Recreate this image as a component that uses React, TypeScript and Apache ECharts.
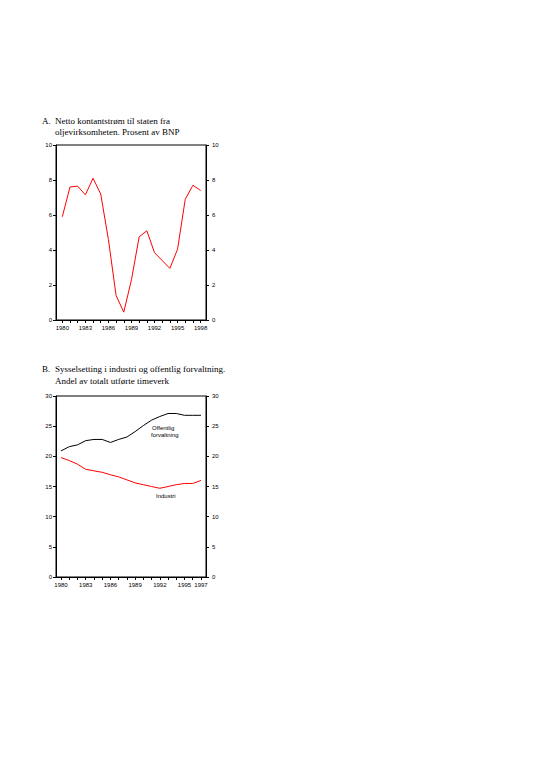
import React, { useEffect, useRef } from 'react';
import * as echarts from 'echarts';

// Panel A: netto kontantstrøm fra oljevirksomheten, prosent av BNP
const yearsA = [1980, 1981, 1982, 1983, 1984, 1985, 1986, 1987, 1988, 1989, 1990, 1991, 1992, 1993, 1994, 1995, 1996, 1997, 1998];
const cashFlow = [5.9, 7.6, 7.65, 7.15, 8.1, 7.2, 4.6, 1.4, 0.45, 2.3, 4.75, 5.1, 3.85, 3.4, 2.95, 4.05, 6.9, 7.7, 7.4];
const labelYearsA = [1980, 1983, 1986, 1989, 1992, 1995, 1998];

// Panel B: andel av totalt utførte timeverk
const yearsB = [1980, 1981, 1982, 1983, 1984, 1985, 1986, 1987, 1988, 1989, 1990, 1991, 1992, 1993, 1994, 1995, 1996, 1997];
const offentlig = [20.9, 21.6, 21.9, 22.6, 22.8, 22.8, 22.3, 22.8, 23.2, 24.1, 25.1, 26.0, 26.6, 27.1, 27.1, 26.8, 26.8, 26.8];
const industri = [19.8, 19.3, 18.7, 17.85, 17.6, 17.35, 16.95, 16.6, 16.1, 15.6, 15.3, 15.0, 14.7, 15.0, 15.3, 15.5, 15.5, 16.0];
const labelYearsB = [1980, 1983, 1986, 1989, 1992, 1995, 1997];

const tickFont = { fontFamily: 'Liberation Sans', fontSize: 6, color: '#000' };
const titleFont = { fontFamily: 'Liberation Serif', fontSize: 9, fill: '#000' };
const noteFont = { fontFamily: 'Liberation Sans', fontSize: 6, fill: '#000' };

const App: React.FC = () => {
  const chartRef = useRef<HTMLDivElement | null>(null);

  useEffect(() => {
    const chart = echarts.init(chartRef.current!, null, { renderer: 'svg' });

    const xAxis = (gridIndex: number, min: number, max: number, ticks: number[], labels: number[]) => ({
      type: 'value',
      gridIndex,
      min,
      max,
      splitLine: { show: false },
      axisLine: { lineStyle: { color: '#000', width: 1 } },
      axisTick: { length: 3, customValues: ticks, lineStyle: { color: '#000' } },
      axisLabel: { ...tickFont, margin: 5, customValues: labels, formatter: (v: number) => String(v) },
    });

    const yAxis = (gridIndex: number, max: number, step: number, position: string) => ({
      type: 'value',
      gridIndex,
      position,
      min: 0,
      max,
      interval: step,
      splitLine: { show: false },
      axisLine: { show: true, lineStyle: { color: '#000', width: 1 } },
      axisTick: { show: true, length: 3, lineStyle: { color: '#000' } },
      axisLabel: { ...tickFont, margin: position === 'left' ? 4 : 6 },
    });

    const option = {
      animation: false,
      backgroundColor: '#fff',
      grid: [
        { left: 56, width: 150, top: 145, height: 175, show: true, borderColor: '#000', borderWidth: 1 },
        { left: 56, width: 150, top: 396, height: 181, show: true, borderColor: '#000', borderWidth: 1 },
      ],
      xAxis: [
        xAxis(0, 1979.18, 1998.7, yearsA, labelYearsA),
        xAxis(1, 1979.39, 1997.61, yearsB, labelYearsB),
      ],
      yAxis: [
        yAxis(0, 10, 2, 'left'),
        yAxis(0, 10, 2, 'right'),
        yAxis(1, 30, 5, 'left'),
        yAxis(1, 30, 5, 'right'),
      ],
      series: [
        {
          type: 'line',
          xAxisIndex: 0,
          yAxisIndex: 0,
          symbol: 'none',
          lineStyle: { color: '#ff0000', width: 1 },
          data: yearsA.map((y, i) => [y, cashFlow[i]]),
        },
        {
          type: 'line',
          xAxisIndex: 1,
          yAxisIndex: 2,
          symbol: 'none',
          lineStyle: { color: '#000', width: 1 },
          data: yearsB.map((y, i) => [y, offentlig[i]]),
        },
        {
          type: 'line',
          xAxisIndex: 1,
          yAxisIndex: 2,
          symbol: 'none',
          lineStyle: { color: '#ff0000', width: 1 },
          data: yearsB.map((y, i) => [y, industri[i]]),
        },
      ],
      graphic: [
        { type: 'text', left: 42, top: 116, style: { ...titleFont, text: 'A.' } },
        { type: 'text', left: 55, top: 116, style: { ...titleFont, text: 'Netto kontantstrøm til staten fra' } },
        { type: 'text', left: 55, top: 127, style: { ...titleFont, text: 'oljevirksomheten. Prosent av BNP' } },
        { type: 'text', left: 42, top: 364, style: { ...titleFont, text: 'B.' } },
        { type: 'text', left: 55, top: 364, style: { ...titleFont, text: 'Sysselsetting i industri og offentlig forvaltning.' } },
        { type: 'text', left: 55, top: 376, style: { ...titleFont, text: 'Andel av totalt utførte timeverk' } },
        { type: 'text', left: 152, top: 425, style: { ...noteFont, text: 'Offentlig' } },
        { type: 'text', left: 151, top: 432, style: { ...noteFont, text: 'forvaltning' } },
        { type: 'text', left: 156, top: 493, style: { ...noteFont, text: 'Industri' } },
      ],
    };

    chart.setOption(option);

    return () => {
      chart.dispose();
    };
  }, []);

  return (
    <div
      ref={chartRef}
      style={{ position: 'absolute', left: 0, top: 0, width: '543px', height: '768px', background: '#fff' }}
    />
  );
};

export default App;
